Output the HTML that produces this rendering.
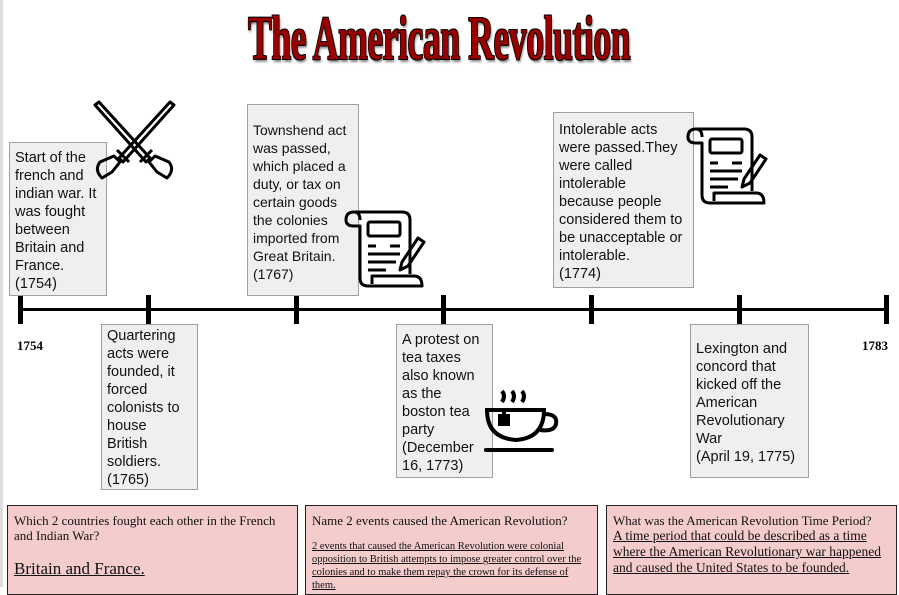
<!DOCTYPE html>
<html><head><meta charset="utf-8"><style>
body{margin:0;width:899px;height:587px;background:#fff;position:relative;overflow:hidden;font-family:"Liberation Sans",sans-serif}
.b{position:absolute;background:#efefef;border:1px solid #a0a0a0;box-sizing:border-box;font-size:14.5px;line-height:18px;padding:6px 9px 0 5px;color:#111}
.q{position:absolute;background:#f4cccc;border:1.5px solid #222;box-sizing:border-box;font-family:"Liberation Serif",serif;color:#111;padding:7px 6px;overflow:hidden}
.q u{text-decoration:underline}
.tk{position:absolute;top:295px;width:5px;height:29px;background:#000}
.yr{position:absolute;top:338px;font-family:"Liberation Serif",serif;font-size:13px;font-weight:bold}
</style></head><body>
<div style="position:absolute;left:0;top:0;width:3px;height:587px;background:#ddd"></div>
<div style="position:absolute;left:439px;top:6px;font-family:'Liberation Serif',serif;font-weight:bold;font-size:62px;line-height:66px;color:#990000;transform:translateX(-50%) scaleX(0.58);white-space:nowrap;text-shadow:1px 1px 0 #000,-1px -1px 0 #000,1px -1px 0 #000,-1px 1px 0 #000,2px 3px 3px #888;letter-spacing:-1px">The American Revolution</div>

<div style="position:absolute;left:18px;top:308px;width:870px;height:3px;background:#000"></div>
<div class="tk" style="left:18px"></div><div class="tk" style="left:146px"></div><div class="tk" style="left:294px"></div><div class="tk" style="left:441px"></div><div class="tk" style="left:589px"></div><div class="tk" style="left:737px"></div><div class="tk" style="left:884px"></div>
<div class="yr" style="left:17px">1754</div><div class="yr" style="left:862px">1783</div>

<div class="b" style="left:9px;top:142px;width:98px;height:154px">Start of the french and indian war. It was fought between Britain and France.<br>(1754)</div>
<div class="b" style="left:247px;top:104px;width:112px;height:192px;padding:16px 2px 0 5px;font-size:14px">Townshend act was passed, which placed a duty, or tax on certain goods the colonies imported from Great Britain.<br>(1767)</div>
<div class="b" style="left:553px;top:112px;width:141px;height:176px;padding-top:8px">Intolerable acts were passed.They were called intolerable because people considered them to be unacceptable or intolerable.<br>(1774)</div>
<div class="b" style="left:101px;top:324px;width:97px;height:166px;padding-top:2px">Quartering acts were founded, it forced colonists to house British soldiers.<br>(1765)</div>
<div class="b" style="left:396px;top:324px;width:97px;height:154px;padding-top:6px">A protest on tea taxes also known as the boston tea party (December 16, 1773)</div>
<div class="b" style="left:690px;top:324px;width:119px;height:154px;padding-top:15px">Lexington and concord that kicked off the American Revolutionary War<br>(April 19, 1775)</div>

<svg style="position:absolute;left:90px;top:100px" width="90" height="82" viewBox="0 0 90 82" fill="none" stroke="#000" stroke-width="3" stroke-linejoin="round">
<path d="M5 5 L9 2 L60 58 L56 62 Z"/><path d="M84 5 L80 2 L29 58 L33 62 Z"/>
<path d="M50 62 L62 50 M10 62 Q4 70 12 78 L22 72 L30 62 L24 56 Z"/>
<path d="M39 62 L27 50 M79 62 Q85 70 77 78 L67 72 L59 62 L65 56 Z"/>
</svg>
<svg style="position:absolute;left:342px;top:208px" width="86" height="82" viewBox="0 0 86 82" fill="none" stroke="#000" stroke-width="3" stroke-linejoin="round">
<path d="M12 4 H60 Q68 4 68 12 V66"/><path d="M12 4 Q4 4 4 12 Q4 18 12 18 H18 V70 Q18 78 26 78 H80 Q80 68 72 68 H30 V76"/>
<path d="M12 4 Q18 4 18 12"/><rect x="26" y="14" width="32" height="14" rx="2"/>
<path d="M26 38 H34 M48 38 H58 M26 46 H58 M26 54 H54 M26 62 H44"/>
<path d="M76 30 L82 34 L66 58 L58 62 L60 54 Z"/>
</svg>
<svg style="position:absolute;left:684px;top:125px" width="86" height="82" viewBox="0 0 86 82" fill="none" stroke="#000" stroke-width="3" stroke-linejoin="round">
<path d="M12 4 H60 Q68 4 68 12 V66"/><path d="M12 4 Q4 4 4 12 Q4 18 12 18 H18 V70 Q18 78 26 78 H80 Q80 68 72 68 H30 V76"/>
<path d="M12 4 Q18 4 18 12"/><rect x="26" y="14" width="32" height="14" rx="2"/>
<path d="M26 38 H34 M48 38 H58 M26 46 H58 M26 54 H54 M26 62 H44"/>
<path d="M76 30 L82 34 L66 58 L58 62 L60 54 Z"/>
</svg>
<svg style="position:absolute;left:482px;top:388px" width="80" height="66" viewBox="0 0 80 66" fill="none" stroke="#000" stroke-width="4">
<path d="M20 3 Q24 8 20 14 M30 3 Q34 8 30 14 M40 3 Q44 8 40 14"/>
<path d="M5 22 H62 Q62 50 34 52 Q5 50 5 22 Z"/><path d="M62 26 Q76 26 74 36 Q72 44 58 42"/>
<rect x="18" y="28" width="8" height="8" fill="#000"/><path d="M22 22 V28"/>
<path d="M4 62 H70" stroke-linecap="round"/>
</svg>

<div class="q" style="left:7px;top:505px;width:291px;height:90px;font-size:13px;line-height:15px">Which 2 countries fought each other in the French and Indian War?<div style="font-size:17px;margin-top:18px"><u>Britain and France.</u></div></div>
<div class="q" style="left:305px;top:505px;width:293px;height:90px;font-size:13px;line-height:15px">Name 2 events caused the American Revolution?<div style="font-size:10.5px;line-height:13px;margin-top:12px"><u>2 events that caused the American Revolution were colonial opposition to British attempts to impose greater control over the colonies and to make them repay the crown for its defense of them.</u></div></div>
<div class="q" style="left:606px;top:505px;width:291px;height:90px;font-size:13px;line-height:15px">What was the American Revolution Time Period?<div style="font-size:13.5px;line-height:16px"><u>A time period that could be described as a time where the American Revolutionary war happened and caused the United States to be founded.</u></div></div>
</body></html>
